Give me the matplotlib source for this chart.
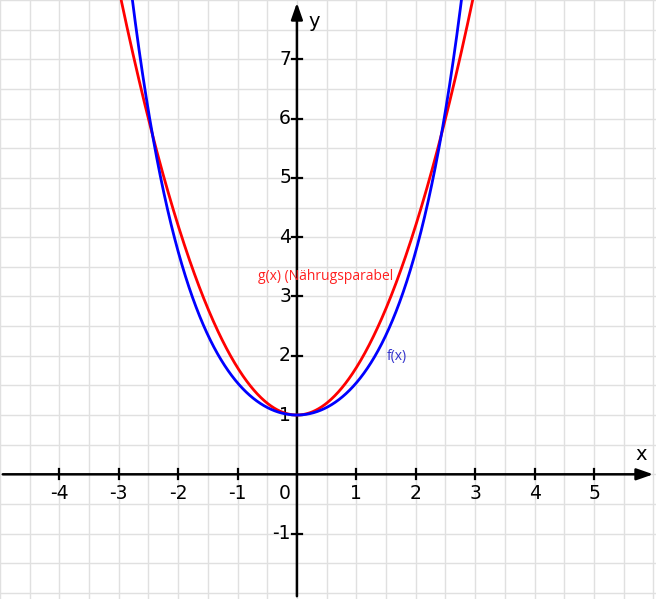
import matplotlib.pyplot as plt
import numpy as np

# Funktionen: f(x) = cosh(x), Näherungsparabel g(x) = 1 + a*x^2
f_label = "f(x)"
g_label = "g(x) (Nährugsparabel"
g_coef = 0.8
x_ticks = [-4, -3, -2, -1, 1, 2, 3, 4, 5]
y_ticks = [-1, 1, 2, 3, 4, 5, 6, 7]

xmin, xmax = -4.997, 6.043
ymin, ymax = -2.103, 8.0

fig = plt.figure(figsize=(6.56, 5.99), dpi=100)
ax = fig.add_axes([0, 0, 1, 1])
ax.set_xlim(xmin, xmax)
ax.set_ylim(ymin, ymax)
ax.axis('off')

# Raster
for gx in np.arange(-5, 6.5, 0.5):
    ax.axvline(gx, color='#e0e0e0', lw=1, zorder=0)
for gy in np.arange(-2, 8.5, 0.5):
    ax.axhline(gy, color='#e0e0e0', lw=1, zorder=0)

# Achsen mit Pfeilen
ax.annotate('', xy=(xmax, 0), xytext=(xmin, 0),
            arrowprops=dict(arrowstyle='-|>,head_length=1.0,head_width=0.35', color='black', lw=1.8), zorder=3)
ax.annotate('', xy=(0, ymax), xytext=(0, ymin),
            arrowprops=dict(arrowstyle='-|>,head_length=1.0,head_width=0.35', color='black', lw=1.8), zorder=3)

for t in x_ticks:
    ax.plot([t, t], [-0.085, 0.085], color='black', lw=1.6, zorder=3)
    ax.text(t, -0.32, str(t), ha='center', va='center', fontsize=13.5)
for t in y_ticks:
    ax.plot([-0.09, 0.09], [t, t], color='black', lw=1.6, zorder=3)
    ax.text(-0.1, t, str(t), ha='right', va='center', fontsize=13.5)
ax.text(-0.1, -0.32, '0', ha='right', va='center', fontsize=13.5)
ax.text(5.79, 0.33, 'x', ha='center', va='center', fontsize=14)
ax.text(0.29, 7.63, 'y', ha='center', va='center', fontsize=14)

# Kurven
xs = np.linspace(-3.5, 3.5, 700)
ax.plot(xs, 1 + g_coef * xs ** 2, color='#ff0000', lw=2, zorder=4)
ax.plot(xs, np.cosh(xs), color='#0000ff', lw=2, zorder=5)

ax.text(-0.66, 3.33, g_label, color='#ff2020', fontsize=10, family='Open Sans', ha='left', va='center')
ax.text(1.51, 1.98, f_label, color='#3333cc', fontsize=10, family='Open Sans', ha='left', va='center')

fig.savefig('out.png', dpi=100)
